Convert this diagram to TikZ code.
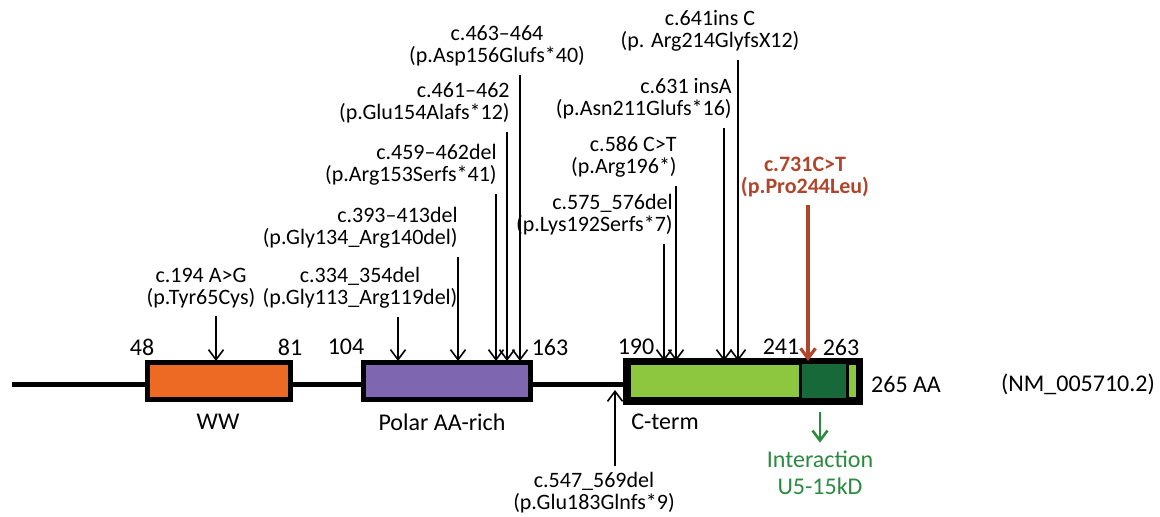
\documentclass[tikz,border=0pt]{standalone}
\usepackage{fontspec}
\setmainfont{Carlito}
\usetikzlibrary{arrows.meta}
\definecolor{wwcol}{HTML}{EC6A24}
\definecolor{polcol}{HTML}{7E66B0}
\definecolor{ctcol}{HTML}{8DC63F}
\definecolor{u5col}{HTML}{17693A}
\definecolor{redcol}{HTML}{B0452B}
\definecolor{grncol}{HTML}{2A8A3E}
\begin{document}
\begin{tikzpicture}[x=0.5pt,y=-0.5pt,
  dom/.style={draw=black,line width=2.5pt,minimum height=18.5pt,inner sep=0pt},
  mut/.style={-{Straight Barb[length=5pt,width=7.5pt]},line width=0.8pt},
  lbl/.style={font=\fontsize{11}{11}\selectfont,inner sep=0pt,align=center},
  rlbl/.style={lbl,align=right,anchor=east},
  num/.style={font=\fontsize{12}{14}\selectfont,inner sep=0pt}]
\useasboundingbox (0,0) rectangle (1160,517);
% backbone
\coordinate (nterm) at (12,385);
\coordinate (cstart) at (630,385);
\draw[line width=2.5pt] (nterm) -- (cstart);
% domains
\node[dom,fill=wwcol,minimum width=71.5pt] (ww) at (218.5,381.5) {};
\node[dom,fill=polcol,minimum width=83.5pt] (polar) at (446.5,381.5) {};
\node[dom,fill=ctcol,minimum width=115pt] (cterm) at (743,381.5) {};
\node[draw=black,fill=u5col,line width=1.5pt,minimum width=23.5pt,minimum height=18.5pt,inner sep=0pt] (u5) at (823.5,381.5) {};
\draw[line width=2.5pt] (cterm.north west) rectangle (cterm.south east);
% positions
\foreach \t/\x in {48/142,81/290,104/346,163/550,190/636,241/781,263/841}
  \node[num] (p\t) at (\x,347) {\t};
\node[num] (len) at (906,384) {265 AA};
\node[num] (refseq) at (1078,384) {(NM\_005710.2)};
\node[num] (wwname) at (218,422) {WW};
\node[num] (polname) at (442,422) {Polar AA-rich};
\node[num] (ctname) at (665,422) {C-term};
% mutations
\node[lbl] (m1) at (201,288) {c.194 A>G\\(p.Tyr65Cys)};
\node[lbl] (m2) at (360,288) {c.334\_354del\\(p.Gly113\_Arg119del)};
\node[rlbl] (m3) at (458,228) {c.393--413del\\(p.Gly134\_Arg140del)};
\node[rlbl] (m4) at (497,165) {c.459--462del\\(p.Arg153Serfs*41)};
\node[rlbl] (m5) at (510,103) {c.461--462\\(p.Glu154Alafs*12)};
\node[lbl] (m6) at (497,46) {c.463--464\\(p.Asp156Glufs*40)};
\node[rlbl] (m7) at (673,215) {c.575\_576del\\(p.Lys192Serfs*7)};
\node[rlbl] (m8) at (677,157) {c.586 C>T\\(p.Arg196*)};
\node[rlbl] (m9) at (732,99) {c.631 insA\\(p.Asn211Glufs*16)};
\node[lbl] (m10) at (710,31) {c.641ins C\\(p. Arg214GlyfsX12)};
\node[lbl,text=redcol,font=\fontsize{11}{11}\selectfont\bfseries] (m11) at (805,177) {c.731C>T\\(p.Pro244Leu)};
\node[lbl] (m12) at (594,493) {c.547\_569del\\(p.Glu183Glnfs*9)};
\foreach \n/\x in {1/216,2/398,3/458,4/496,5/507,6/520,7/664,8/676,9/724,10/738,11/808}
  \coordinate (a\n) at (\x,361);
\coordinate (a12) at (615,390);
\foreach \n in {1,...,10}
  \draw[mut] ([yshift=-4pt]m\n.south -| a\n) -- (a\n);
\draw[mut,draw=redcol,line width=1.6pt] ([yshift=-4pt]m11.south -| a11) -- (a11);
\draw[mut] ([yshift=3pt]m12.north -| a12) -- (a12);
% interaction
\node[num,text=grncol,align=center,font=\fontsize{12}{13.5}\selectfont] (inter) at (820,473) {Interaction\\U5-15kD};
\coordinate (u5src) at (820,412);
\draw[mut,draw=grncol,line width=1.3pt] (u5src) -- ([yshift=4pt]inter.north);
\end{tikzpicture}
\end{document}
